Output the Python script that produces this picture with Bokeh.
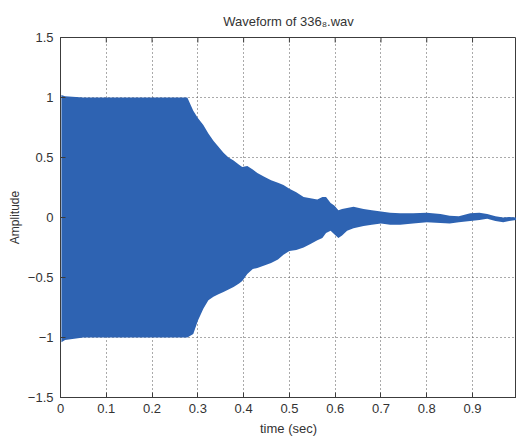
from bokeh.plotting import figure
from bokeh.models import Range1d, FixedTicker
from bokeh.embed import file_html
from bokeh.resources import INLINE

# Envelope of the recorded waveform (amplitude vs time in seconds)
time_s = [0.002, 0.01, 0.05, 0.1, 0.15, 0.2, 0.25, 0.277, 0.29, 0.30, 0.312, 0.323,
          0.334, 0.345, 0.356, 0.367, 0.378, 0.39, 0.397, 0.408, 0.42, 0.43, 0.445,
          0.46, 0.475, 0.487, 0.50, 0.515, 0.531, 0.546, 0.561, 0.572, 0.58, 0.59,
          0.598, 0.607, 0.615, 0.626, 0.64, 0.662, 0.68, 0.70, 0.72, 0.742, 0.77,
          0.80, 0.83, 0.85, 0.87, 0.895, 0.915, 0.932, 0.95, 0.967, 0.98, 0.996]
upper = [1.02, 1.01, 1.0, 1.0, 1.0, 1.0, 1.0, 1.0, 0.89, 0.83, 0.77, 0.70,
         0.64, 0.59, 0.54, 0.50, 0.475, 0.44, 0.42, 0.43, 0.40, 0.37, 0.34,
         0.31, 0.29, 0.27, 0.24, 0.21, 0.17, 0.16, 0.15, 0.17, 0.17, 0.12,
         0.10, 0.06, 0.07, 0.08, 0.09, 0.07, 0.06, 0.05, 0.04, 0.035, 0.035,
         0.04, 0.03, 0.015, 0.01, 0.035, 0.04, 0.03, 0.01, 0.0, 0.005, 0.0]
lower = [-1.04, -1.02, -1.0, -1.0, -1.0, -1.0, -1.0, -1.0, -0.97, -0.86, -0.76, -0.69,
         -0.66, -0.64, -0.62, -0.60, -0.58, -0.55, -0.53, -0.47, -0.43, -0.42, -0.40,
         -0.38, -0.35, -0.31, -0.28, -0.27, -0.25, -0.22, -0.19, -0.17, -0.13, -0.11,
         -0.14, -0.17, -0.15, -0.11, -0.09, -0.07, -0.06, -0.05, -0.06, -0.06, -0.05,
         -0.04, -0.045, -0.05, -0.04, -0.03, -0.02, -0.01, -0.03, -0.04, -0.03, -0.02]

x_ticks = [0, 0.1, 0.2, 0.3, 0.4, 0.5, 0.6, 0.7, 0.8, 0.9]
y_ticks = [-1.5, -1, -0.5, 0, 0.5, 1, 1.5]
title_text = "Waveform of 336\u2088.wav"

FONT = "Liberation Sans"
TXT = "#333333"
AX = "#3c3c3c"
BLUE = "#2e63b2"
X_MAX = 0.996
Y_MIN, Y_MAX = -1.5, 1.5

p = figure(width=516, height=442, output_backend="svg", toolbar_location=None,
           x_range=Range1d(0, X_MAX), y_range=Range1d(Y_MIN, Y_MAX),
           min_border_left=60, min_border_right=0, min_border_top=37,
           min_border_bottom=45, x_axis_label="time (sec)", y_axis_label="Amplitude",
           title=title_text)
p.outline_line_color = AX
p.background_fill_color = "white"
p.border_fill_color = "white"

p.title.text_font = FONT
p.title.text_font_size = "13px"
p.title.text_font_style = "normal"
p.title.text_color = TXT
p.title.align = "center"
p.title.standoff = 18

p.varea(x=time_s, y1=lower, y2=upper, fill_color=BLUE)

# Inward ticks along the top edge of the box
p.ray(x=x_ticks, y=[Y_MAX] * len(x_ticks), length=5, length_units="screen",
      angle=-90, angle_units="deg", line_color=AX, line_width=1)

for ax, ticks in ((p.xaxis[0], x_ticks), (p.yaxis[0], y_ticks)):
    ax.ticker = FixedTicker(ticks=ticks)
    ax.major_tick_in = 5
    ax.major_tick_out = 0
    ax.minor_tick_line_color = None
    ax.axis_line_color = AX
    ax.major_tick_line_color = AX
    ax.major_label_text_font = FONT
    ax.major_label_text_font_size = "13px"
    ax.major_label_text_color = TXT
    ax.axis_label_text_font = FONT
    ax.axis_label_text_font_style = "normal"
    ax.axis_label_text_color = TXT

p.xaxis.major_label_standoff = 6
p.xaxis.axis_label_standoff = 5
p.xaxis.axis_label_text_font_size = "13px"
p.yaxis.major_label_standoff = 7
p.yaxis.axis_label_standoff = 3
p.yaxis.axis_label_text_font_size = "12px"

for g, ticks in ((p.xgrid[0], x_ticks), (p.ygrid[0], y_ticks)):
    g.ticker = FixedTicker(ticks=ticks)
    g.grid_line_color = "#555555"
    g.grid_line_dash = "1 3"
    g.grid_line_width = 1

open("out.html", "w").write(file_html(p, INLINE))
